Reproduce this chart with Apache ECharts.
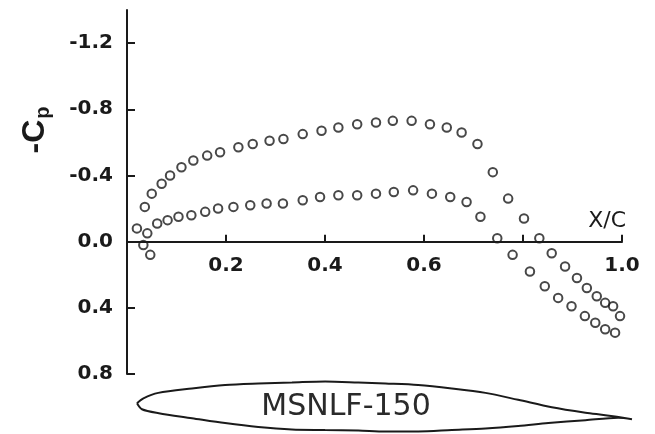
<!DOCTYPE html>
<html>
<head>
<meta charset="utf-8">
<script src="https://cdn.jsdelivr.net/npm/echarts@6/dist/echarts.min.js"></script>
<style>
  html, body { margin: 0; padding: 0; background: #fff; }
  #chart { width: 655px; height: 434px; }
</style>
</head>
<body>
<div id="chart"></div>
<script>
// upper surface pressure taps (x/c, Cp)
var upperX = [0.036, 0.050, 0.070, 0.087, 0.110, 0.134, 0.162, 0.188, 0.225, 0.254,
  0.288, 0.316, 0.355, 0.393, 0.427, 0.465, 0.503, 0.537, 0.575, 0.612,
  0.646, 0.676, 0.708, 0.739, 0.770, 0.802, 0.833, 0.858, 0.885, 0.909,
  0.929, 0.949, 0.966, 0.982, 0.996, 1.003];
var upperCp = [-0.21, -0.29, -0.35, -0.40, -0.45, -0.49, -0.52, -0.54, -0.57, -0.59,
  -0.61, -0.62, -0.65, -0.67, -0.69, -0.71, -0.72, -0.73, -0.73, -0.71,
  -0.69, -0.66, -0.59, -0.42, -0.26, -0.14, -0.02, 0.07, 0.15, 0.22,
  0.28, 0.33, 0.37, 0.39, 0.45, 0.51];

// lower surface pressure taps (x/c, Cp)
var lowerX = [0.047, 0.033, 0.020, 0.041, 0.061, 0.082, 0.104, 0.130, 0.158, 0.184,
  0.215, 0.249, 0.282, 0.315, 0.355, 0.390, 0.427, 0.465, 0.503, 0.539,
  0.578, 0.616, 0.653, 0.686, 0.714, 0.748, 0.779, 0.814, 0.844, 0.871,
  0.898, 0.925, 0.946, 0.966, 0.986];
var lowerCp = [0.08, 0.02, -0.08, -0.05, -0.11, -0.13, -0.15, -0.16, -0.18, -0.20,
  -0.21, -0.22, -0.23, -0.23, -0.25, -0.27, -0.28, -0.28, -0.29, -0.30,
  -0.31, -0.29, -0.27, -0.24, -0.15, -0.02, 0.08, 0.18, 0.27, 0.34,
  0.39, 0.45, 0.49, 0.53, 0.55];

// airfoil outline sketch (x/c, y/c)
var foilUpperX = [0, 0.013, 0.043, 0.111, 0.178, 0.245, 0.313, 0.380, 0.447, 0.502,
  0.568, 0.636, 0.704, 0.770, 0.838, 0.906, 0.946, 1.0];
var foilUpperY = [0, 0.010, 0.021, 0.030, 0.037, 0.040, 0.042, 0.044, 0.042, 0.040,
  0.037, 0.030, 0.021, 0.007, -0.008, -0.019, -0.024, -0.032];
var foilLowerX = [0, 0.010, 0.044, 0.111, 0.178, 0.245, 0.313, 0.380, 0.447, 0.502,
  0.568, 0.636, 0.704, 0.770, 0.831, 0.906, 0.972, 1.0];
var foilLowerY = [0, -0.012, -0.020, -0.030, -0.040, -0.048, -0.053, -0.054, -0.055, -0.057,
  -0.057, -0.054, -0.051, -0.046, -0.040, -0.034, -0.029, -0.032];

var yTicks = [-1.2, -0.8, -0.4, 0.4, 0.8];
var yLabels = [-1.2, -0.8, -0.4, 0, 0.4, 0.8];
var xTicks = [0.2, 0.4, 0.6, 0.8, 1.0];
var xLabels = [0.2, 0.4, 0.6, 1.0];

function pairs(xs, ys) {
  return xs.map(function (x, i) { return [x, ys[i]]; });
}

var foil = pairs(foilUpperX, foilUpperY).concat(pairs(foilLowerX, foilLowerY).reverse());

var ink = '#1a1a1a';
var labelFont = { color: ink, fontSize: 20, fontFamily: 'DejaVu Sans', fontWeight: 'bold' };

// plot box: Cp from -1.4 (top) to 0.8 (bottom)
var plotTop = 10, plotHeight = 364, cpMin = -1.4, cpMax = 0.8;
// move the x axis up onto Cp = 0
var zeroOffset = -plotHeight * cpMax / (cpMax - cpMin);

var chart = echarts.init(document.getElementById('chart'));

var option = {
  backgroundColor: '#fff',
  animation: false,
  grid: [
    { left: 127, top: plotTop, width: 495, height: plotHeight, outerBoundsMode: 'none' },
    { left: 137, top: 378.5, width: 495, height: 57, outerBoundsMode: 'none' }
  ],
  xAxis: [
    {
      type: 'value', gridIndex: 0, min: 0, max: 1, position: 'bottom', offset: zeroOffset,
      name: 'X/C', nameLocation: 'end', nameGap: 4,
      nameTextStyle: { color: ink, fontSize: 22, fontFamily: 'DejaVu Sans', align: 'right', verticalAlign: 'bottom', padding: [0, 0, 9, 0] },
      axisLine: { onZero: false, lineStyle: { color: ink, width: 2 } },
      axisTick: { inside: true, length: 7, customValues: xTicks, lineStyle: { color: ink, width: 2 } },
      axisLabel: Object.assign({ customValues: xLabels, margin: 14, formatter: function (v) { return v.toFixed(1); } }, labelFont),
      splitLine: { show: false }
    },
    { type: 'value', gridIndex: 1, min: 0, max: 1, show: false }
  ],
  yAxis: [
    {
      type: 'value', gridIndex: 0, inverse: true, min: cpMin, max: cpMax,
      axisLine: { onZero: false, lineStyle: { color: ink, width: 2 } },
      axisTick: { inside: true, length: 8, customValues: yTicks, lineStyle: { color: ink, width: 2 } },
      axisLabel: Object.assign({ customValues: yLabels, margin: 14, formatter: function (v) { return v.toFixed(1); } }, labelFont),
      splitLine: { show: false }
    },
    { type: 'value', gridIndex: 1, min: -0.065, max: 0.05, show: false }
  ],
  graphic: [
    {
      type: 'text', x: 35, y: 130, rotation: Math.PI / 2,
      style: {
        text: '{a|-C}{b|p}',
        align: 'center', verticalAlign: 'middle',
        rich: {
          a: { fontSize: 32, fontWeight: 'bold', fontFamily: 'Liberation Sans', fill: ink },
          b: { fontSize: 20, fontWeight: 'bold', fontFamily: 'Liberation Sans', fill: ink, padding: [16, 0, 0, 1] }
        }
      }
    },
    {
      type: 'text', x: 346, y: 407,
      style: {
        text: 'MSNLF-150', fontSize: 30, fontFamily: 'DejaVu Sans', fontWeight: 'normal',
        fill: '#2a2a2a', align: 'center', verticalAlign: 'middle'
      }
    }
  ],
  series: [
    {
      name: 'upper', type: 'scatter', xAxisIndex: 0, yAxisIndex: 0,
      data: pairs(upperX, upperCp), symbol: 'circle', symbolSize: 8.5,
      itemStyle: { color: 'rgba(0,0,0,0)', borderColor: ink, borderWidth: 2 }
    },
    {
      name: 'lower', type: 'scatter', xAxisIndex: 0, yAxisIndex: 0,
      data: pairs(lowerX, lowerCp), symbol: 'circle', symbolSize: 8.5,
      itemStyle: { color: 'rgba(0,0,0,0)', borderColor: ink, borderWidth: 2 }
    },
    {
      name: 'airfoil', type: 'line', xAxisIndex: 1, yAxisIndex: 1,
      data: foil, symbol: 'none', smooth: 0.3, clip: false,
      lineStyle: { color: ink, width: 2 }
    }
  ]
};

chart.setOption(option);
</script>
</body>
</html>
